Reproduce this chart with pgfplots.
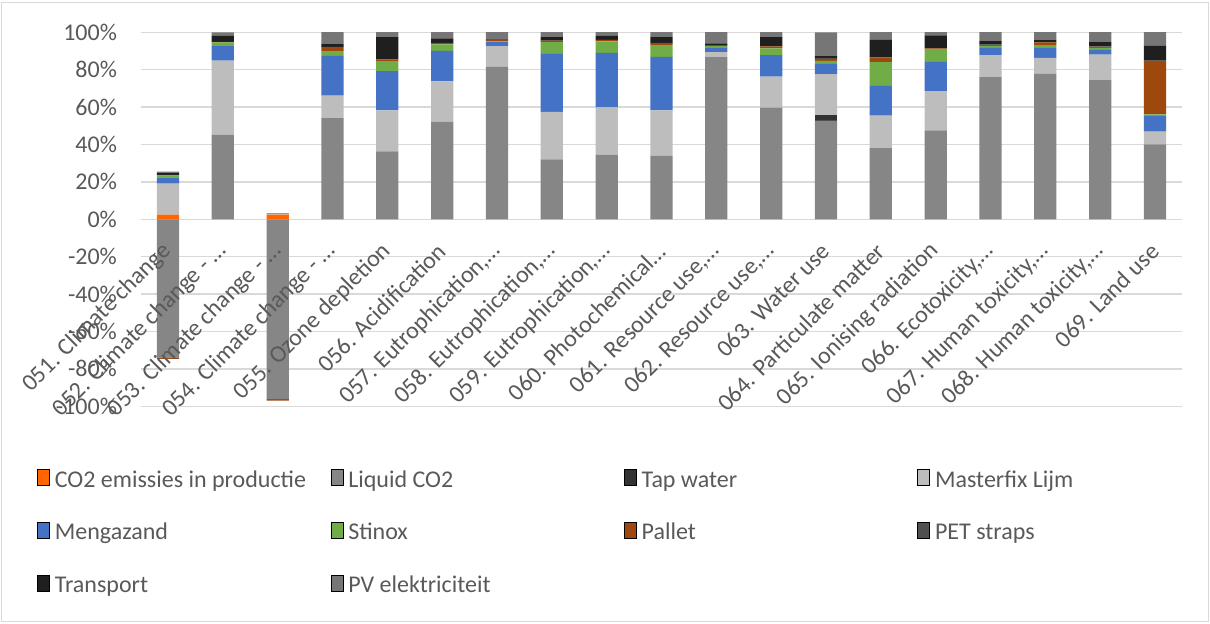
\documentclass[border=0pt]{standalone}
\usepackage{fontspec}
\setmainfont{Carlito}
\usepackage{pgfplots}
\usepackage{pgfplotstable}
\pgfplotsset{compat=1.18}
\definecolor{cco}{HTML}{FF6600}
\definecolor{cliq}{HTML}{868686}
\definecolor{ctap}{HTML}{333333}
\definecolor{cmf}{HTML}{BDBDBD}
\definecolor{cmz}{HTML}{4472C4}
\definecolor{cst}{HTML}{70AD47}
\definecolor{cpal}{HTML}{9E480E}
\definecolor{cpet}{HTML}{505050}
\definecolor{ctr}{HTML}{1F1F1F}
\definecolor{cpv}{HTML}{767676}
\definecolor{gridc}{HTML}{D9D9D9}
\definecolor{txt}{HTML}{595959}
\pgfplotstableread{
x liqneg palneg co2 liq tap mf mz st pal pet tr pv
0 -73.9 -0.8 2.5 0 0 16.6 3.3 0.9 0.2 0.2 1.2 0.6
1 0 0 0 45.3 0 39.6 7.7 2.0 0.2 0.1 3.2 1.8
2 -96.1 -0.9 2.5 0 0 0.4 0.3 0.1 0 0 0 0
3 0 0 0 54.1 0 12.0 21.3 2.2 2.5 0.1 1.8 6.1
4 0 0 0 36.3 0 21.9 21.0 5.4 0.9 0.1 11.8 2.7
5 0 0 0 52.2 0 21.6 16.3 3.4 0.7 0.1 2.4 3.4
6 0 0 0 81.5 0 11.1 2.3 0.3 0.6 0.1 0.3 3.9
7 0 0 0 32.0 0 25.5 31.0 6.3 0.7 0.1 2.1 2.4
8 0 0 0 34.6 0 25.2 29.2 6.2 0.7 0.1 2.1 2.0
9 0 0 0 34.0 0 24.2 28.7 6.3 1.0 0.1 3.4 2.4
10 0 0 0 86.7 0 2.7 2.3 0.9 0.2 0.3 1.0 6.1
11 0 0 0 59.7 0 16.6 11.5 3.6 1.1 0.1 5.1 2.4
12 0 0 0 52.7 3.0 21.9 5.5 1.6 1.1 0.5 1.0 12.7
13 0 0 0 38.0 0 17.5 15.8 12.7 2.6 0.1 9.3 4.1
14 0 0 0 47.5 0 21.1 15.6 6.6 0.6 0.1 6.8 1.8
15 0 0 0 76.0 0 11.8 3.9 1.1 0.3 0.3 2.1 4.8
16 0 0 0 77.7 0 8.6 5.4 1.5 1.4 0.1 1.4 4.0
17 0 0 0 74.4 0 13.6 2.6 1.1 0.5 0.3 2.3 5.5
18 0 0 0 40.1 0 6.8 8.3 0.9 28.6 0.1 7.9 7.4
}\data
\pgfplotsset{
  legend image code/.code={\fill[#1,draw=none] (0pt,0.65pt) rectangle (6.5pt,7.15pt);},
  common/.style={
    at={(70.3pt,-203.15pt)}, anchor=south west,
    scale only axis, width=520.9pt, height=187pt,
    xmin=-0.5, xmax=18.5, ymin=-100, ymax=100,
    axis line style={draw=none},
    major tick length=0pt,
    tick label style={font=\fontsize{12}{14}\selectfont, text=txt},
  }
}
\newcommand{\legtxt}[1]{\makebox[137.9pt][l]{#1}}
\begin{document}
\begin{tikzpicture}
\useasboundingbox (0,0) rectangle (605pt,-312pt);
\draw[gridc, line width=0.65pt] (0.75pt,-1.25pt) rectangle (604.25pt,-310.75pt);
\begin{axis}[
  common,
  ybar stacked, bar width=11.15pt,
  ymajorgrids, grid style={draw=gridc, line width=0.65pt},
  ytick={-100,-80,...,100},
  yticklabels={-100\%,-80\%,-60\%,-40\%,-20\%,0\%,20\%,40\%,60\%,80\%,100\%},
  xtick=\empty,
  yticklabel style={anchor=east, inner sep=0pt, xshift=-11.65pt},
  legend columns=4,
  legend style={at={(axis description cs:-0.09916,-0.16684)}, anchor=north west, draw=none, fill=none,
    inner sep=0pt, outer sep=0pt, row sep=14.25pt, column sep=0pt,
    font=\fontsize{12}{14}\selectfont,
    nodes={inner sep=0pt, text=txt, text height=9pt, text depth=3pt},
    /tikz/every odd column/.append style={column sep=2.4pt}},
]
\addplot[fill=cliq, draw=none, forget plot] table[x=x, y=liqneg]{\data};
\addplot[fill=cpal, draw=none, forget plot] table[x=x, y=palneg]{\data};
\addplot[fill=cco, draw=none] table[x=x, y=co2]{\data};
\addlegendentry{\legtxt{CO2 emissies in productie}}
\addplot[fill=cliq, draw=none] table[x=x, y=liq]{\data};
\addlegendentry{\legtxt{Liquid CO2}}
\addplot[fill=ctap, draw=none] table[x=x, y=tap]{\data};
\addlegendentry{\legtxt{Tap water}}
\addplot[fill=cmf, draw=none] table[x=x, y=mf]{\data};
\addlegendentry{\legtxt{Masterfix Lijm}}
\addplot[fill=cmz, draw=none] table[x=x, y=mz]{\data};
\addlegendentry{\legtxt{Mengazand}}
\addplot[fill=cst, draw=none] table[x=x, y=st]{\data};
\addlegendentry{\legtxt{Stinox}}
\addplot[fill=cpal, draw=none] table[x=x, y=pal]{\data};
\addlegendentry{\legtxt{Pallet}}
\addplot[fill=cpet, draw=none] table[x=x, y=pet]{\data};
\addlegendentry{\legtxt{PET straps}}
\addplot[fill=ctr, draw=none] table[x=x, y=tr]{\data};
\addlegendentry{\legtxt{Transport}}
\addplot[fill=cpv, draw=none] table[x=x, y=pv]{\data};
\addlegendentry{\legtxt{PV elektriciteit}}
\end{axis}
\begin{axis}[
  common,
  ytick=\empty,
  xtick={0,...,18},
  xticklabels={051. Climate change,052. Climate change - …,053. Climate change - …,054. Climate change - …,055. Ozone depletion,056. Acidification,{057. Eutrophication,…},{058. Eutrophication,…},{059. Eutrophication,…},060. Photochemical…,{061. Resource use,…},{062. Resource use,…},063. Water use,064. Particulate matter,065. Ionising radiation,{066. Ecotoxicity,…},{067. Human toxicity,…},{068. Human toxicity,…},069. Land use},
  xticklabel style={anchor=east, inner sep=0pt, yshift=79.5pt, rotate=45},
]
\end{axis}
\end{tikzpicture}
\end{document}
